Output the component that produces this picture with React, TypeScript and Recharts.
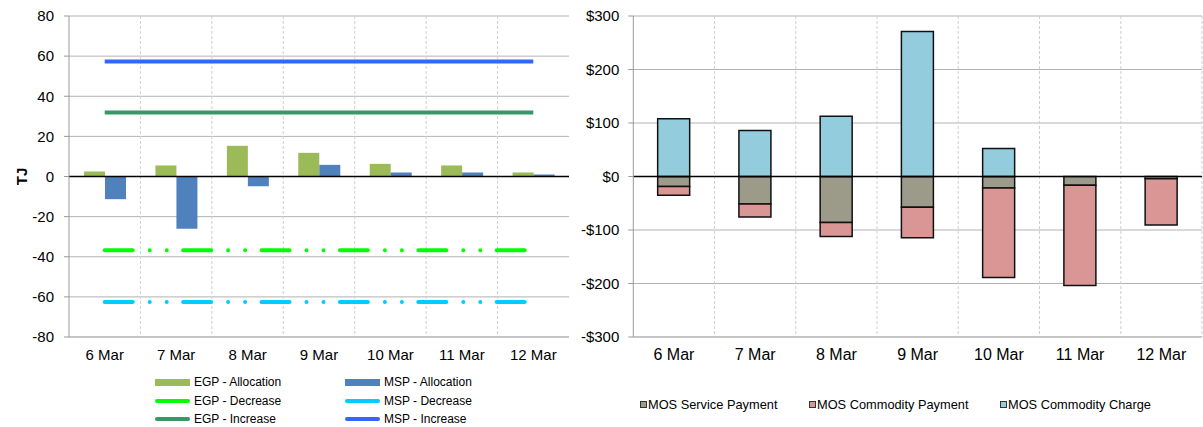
import { Bar, CartesianGrid, ComposedChart, Line, ReferenceLine, XAxis, YAxis } from "recharts";

const DATES = ["6 Mar", "7 Mar", "8 Mar", "9 Mar", "10 Mar", "11 Mar", "12 Mar"];

// left chart, TJ
const EGP_ALLOCATION = [2.5, 5.5, 15.3, 11.8, 6.3, 5.5, 2];
const MSP_ALLOCATION = [-11.3, -26, -4.8, 5.8, 2, 2, 1];
const EGP_DECREASE = [-36.7, -36.7, -36.7, -36.7, -36.7, -36.7, -36.7];
const MSP_DECREASE = [-62.5, -62.5, -62.5, -62.5, -62.5, -62.5, -62.5];
const EGP_INCREASE = [31.9, 31.9, 31.9, 31.9, 31.9, 31.9, 31.9];
const MSP_INCREASE = [57.3, 57.3, 57.3, 57.3, 57.3, 57.3, 57.3];
const TJ_TICKS = [-80, -60, -40, -20, 0, 20, 40, 60, 80];

// right chart, $
const MOS_SERVICE = [-18.7, -51.2, -86, -57.4, -21.3, -16.2, -4];
const MOS_COMMODITY_PAYMENT = [-16.5, -24.3, -26, -57, -167.5, -187.5, -86.5];
const MOS_COMMODITY_CHARGE = [108, 86, 112.7, 271, 52.3, 0, 0];
const DOLLAR_TICKS = [-300, -200, -100, 0, 100, 200, 300];

const FONT = '"Liberation Sans", Arial, sans-serif';
const GRID = "#b3b3b3";
const VGRID = "#d0d0d0";

const leftData = DATES.map((date, i) => ({
  date,
  egpAlloc: EGP_ALLOCATION[i],
  mspAlloc: MSP_ALLOCATION[i],
  egpDec: EGP_DECREASE[i],
  mspDec: MSP_DECREASE[i],
  egpInc: EGP_INCREASE[i],
  mspInc: MSP_INCREASE[i],
}));

const rightData = DATES.map((date, i) => ({
  date,
  service: MOS_SERVICE[i],
  commodity: MOS_COMMODITY_PAYMENT[i],
  charge: MOS_COMMODITY_CHARGE[i],
}));

// vertical grid lines between categories
const boundaries = (withLast: boolean) => ({ offset }: any) => {
  const out: number[] = [];
  const n = withLast ? DATES.length : DATES.length - 1;
  for (let i = 1; i <= n; i++) out.push(offset.left + (i * offset.width) / DATES.length);
  return out;
};

const renderTj = (props: any) => {
  const vb = props.viewBox;
  const x = vb.x + 11;
  const y = vb.y + vb.height / 2;
  return (
    <text
      x={x}
      y={y}
      transform={`rotate(-90 ${x} ${y})`}
      textAnchor="middle"
      dominantBaseline="central"
      fontFamily={FONT}
      fontSize={15}
      fontWeight="bold"
      fill="#000"
    >
      TJ
    </text>
  );
};

const dollar = (v: number) => (v < 0 ? `-$${-v}` : `$${v}`);

const LEFT_LEGEND = [
  { label: "EGP - Allocation", color: "#9bbb59", kind: "bar" },
  { label: "MSP - Allocation", color: "#4f81bd", kind: "bar" },
  { label: "EGP - Decrease", color: "#00ff00", kind: "line" },
  { label: "MSP - Decrease", color: "#00ccff", kind: "line" },
  { label: "EGP - Increase", color: "#339966", kind: "line" },
  { label: "MSP - Increase", color: "#3366ff", kind: "line" },
];

const RIGHT_LEGEND = [
  { label: "MOS Service Payment", color: "#9c9a89" },
  { label: "MOS Commodity Payment", color: "#d99694" },
  { label: "MOS Commodity Charge", color: "#93cddd" },
];

function LeftLegend() {
  const cols = [155, 345];
  const rows = [382, 400.5, 418.5];
  return (
    <>
      {LEFT_LEGEND.map((item, i) => (
        <div
          key={item.label}
          style={{
            position: "absolute",
            left: cols[i % 2],
            top: rows[Math.floor(i / 2)] - 8,
            height: 16,
            display: "flex",
            alignItems: "center",
            fontFamily: FONT,
            fontSize: 12,
            color: "#000",
            whiteSpace: "nowrap",
          }}
        >
          <span
            style={{
              display: "inline-block",
              width: 35,
              height: item.kind === "bar" ? 7 : 4,
              borderRadius: item.kind === "bar" ? 0 : 2,
              background: item.color,
              marginRight: 4,
            }}
          />
          {item.label}
        </div>
      ))}
    </>
  );
}

function RightLegend() {
  const xs = [640, 809, 1000];
  return (
    <>
      {RIGHT_LEGEND.map((item, i) => (
        <div
          key={item.label}
          style={{
            position: "absolute",
            left: xs[i],
            top: 395,
            height: 18,
            display: "flex",
            alignItems: "center",
            fontFamily: FONT,
            fontSize: 12.8,
            color: "#000",
            whiteSpace: "nowrap",
          }}
        >
          <span
            style={{
              display: "inline-block",
              width: 5,
              height: 5,
              border: "1px solid #333",
              background: item.color,
              marginRight: 1,
            }}
          />
          {item.label}
        </div>
      ))}
    </>
  );
}

export default function App() {
  const tick = { fontFamily: FONT, fontSize: 15, fill: "#000" };
  return (
    <div style={{ position: "absolute", left: 0, top: 0, width: 1203, height: 427, background: "#fff" }}>
      <div style={{ position: "absolute", left: 0, top: 0 }}>
        <ComposedChart
          width={575}
          height={370}
          data={leftData}
          margin={{ top: 16, right: 6, bottom: 0, left: 10 }}
          barCategoryGap="21%"
          barGap={0}
        >
          <CartesianGrid vertical={false} stroke={GRID} />
          <CartesianGrid horizontal={false} stroke={VGRID} strokeDasharray="3 2" verticalCoordinatesGenerator={boundaries(false)} />
          <XAxis
            dataKey="date"
            interval={0}
            height={33}
            tick={{ ...tick, fontSize: 15 }}
            tickLine={false}
            tickSize={0}
            tickMargin={12}
            axisLine={{ stroke: GRID }}
          />
          <YAxis
            width={59}
            domain={[-80, 80]}
            ticks={TJ_TICKS}
            interval={0}
            tick={tick}
            tickSize={5}
            tickMargin={10}
            tickLine={{ stroke: "#999" }}
            axisLine={{ stroke: "#999" }}
            label={{ value: "TJ", content: renderTj }}
          />
          <Bar dataKey="egpAlloc" name="EGP - Allocation" fill="#9bbb59" isAnimationActive={false} />
          <Bar dataKey="mspAlloc" name="MSP - Allocation" fill="#4f81bd" isAnimationActive={false} />
          <ReferenceLine y={0} stroke="#000" strokeWidth={1.5} />
          <Line
            dataKey="egpDec"
            name="EGP - Decrease"
            stroke="#00ff00"
            strokeWidth={4}
            strokeLinecap="round"
            strokeDasharray="28 17 0 17 0 16.4"
            dot={false}
            activeDot={false}
            isAnimationActive={false}
          />
          <Line
            dataKey="mspDec"
            name="MSP - Decrease"
            stroke="#00ccff"
            strokeWidth={4}
            strokeLinecap="round"
            strokeDasharray="28 17 0 17 0 16.4"
            dot={false}
            activeDot={false}
            isAnimationActive={false}
          />
          <Line dataKey="egpInc" name="EGP - Increase" stroke="#339966" strokeWidth={4} dot={false} activeDot={false} isAnimationActive={false} />
          <Line dataKey="mspInc" name="MSP - Increase" stroke="#3366ff" strokeWidth={4} dot={false} activeDot={false} isAnimationActive={false} />
        </ComposedChart>
      </div>
      <LeftLegend />

      <div style={{ position: "absolute", left: 580, top: 0 }}>
        <ComposedChart
          width={623}
          height={370}
          data={rightData}
          margin={{ top: 16, right: 1, bottom: 0, left: 0 }}
          stackOffset="sign"
          barCategoryGap="30%"
        >
          <CartesianGrid vertical={false} stroke={GRID} />
          <CartesianGrid horizontal={false} stroke={VGRID} strokeDasharray="3 2" verticalCoordinatesGenerator={boundaries(true)} />
          <XAxis
            dataKey="date"
            interval={0}
            height={33}
            tick={{ ...tick, fontSize: 16 }}
            tickLine={false}
            tickSize={0}
            tickMargin={12}
            axisLine={{ stroke: GRID }}
          />
          <YAxis
            width={53.3}
            domain={[-300, 300]}
            ticks={DOLLAR_TICKS}
            interval={0}
            tick={tick}
            tickSize={5}
            tickMargin={9}
            tickLine={{ stroke: "#999" }}
            axisLine={{ stroke: "#999" }}
            tickFormatter={dollar}
          />
          <Bar dataKey="service" name="MOS Service Payment" stackId="a" fill="#9c9a89" stroke="#111" strokeWidth={1.5} isAnimationActive={false} />
          <Bar dataKey="commodity" name="MOS Commodity Payment" stackId="a" fill="#d99694" stroke="#111" strokeWidth={1.5} isAnimationActive={false} />
          <Bar dataKey="charge" name="MOS Commodity Charge" stackId="a" fill="#93cddd" stroke="#111" strokeWidth={1.5} isAnimationActive={false} />
          <ReferenceLine y={0} stroke="#000" strokeWidth={1.5} />
        </ComposedChart>
      </div>
      <RightLegend />
    </div>
  );
}
